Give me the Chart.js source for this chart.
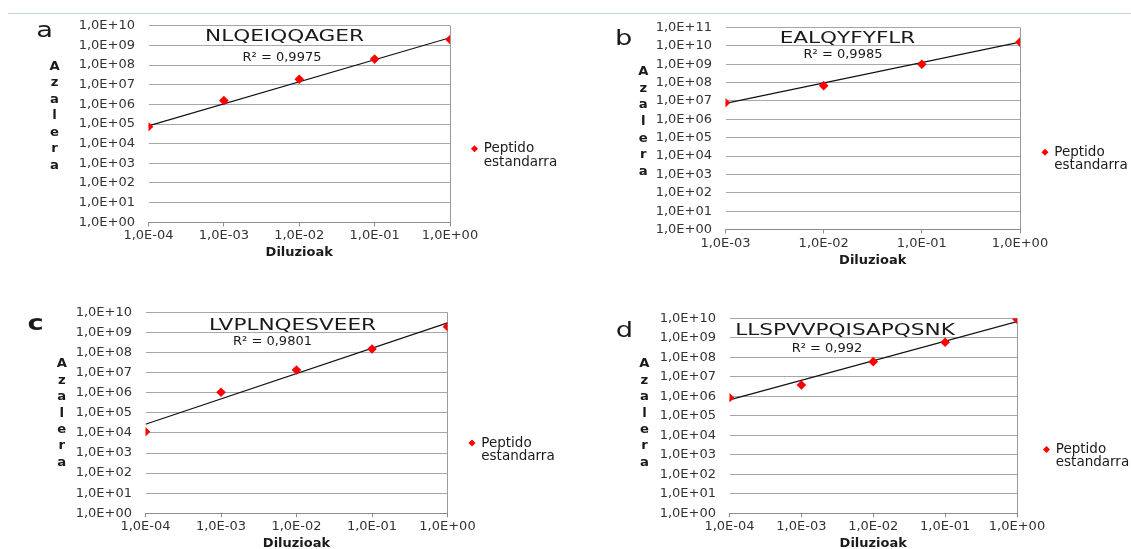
<!DOCTYPE html>
<html>
<head>
<meta charset="utf-8">
<script src="https://cdn.jsdelivr.net/npm/chart.js@4.4.1/dist/chart.umd.min.js"></script>
<style>
html, body { margin:0; padding:0; background:#fff; width:1131px; height:549px; overflow:hidden; }
.rule { position:absolute; left:8px; top:12.5px; width:1123px; height:1.5px; background:#c3d2e2; }
.panel { position:absolute; }
</style>
</head>
<body>
<div class="rule"></div>
<div class="panel" style="left:0px;top:16px;width:570px;height:258px"><canvas id="ca"></canvas></div>
<div class="panel" style="left:565px;top:16px;width:580px;height:258px"><canvas id="cb"></canvas></div>
<div class="panel" style="left:0px;top:290px;width:570px;height:265px"><canvas id="cc"></canvas></div>
<div class="panel" style="left:565px;top:290px;width:580px;height:265px"><canvas id="cd"></canvas></div>
<script>
// texts
const panelLetters = ['a', 'b', 'c', 'd'];
const peptides = ['NLQEIQQAGER', 'EALQYFYFLR', 'LVPLNQESVEER', 'LLSPVVPQISAPQSNK'];
const r2Labels = ['R² = 0,9975', 'R² = 0,9985', 'R² = 0,9801', 'R² = 0,992'];
const yTitle = 'Azalera';
const xTitle = 'Diluzioak';
const seriesLabel = ['Peptido', 'estandarra'];

// ticks
const xTickVals4 = [1e-4, 1e-3, 1e-2, 1e-1, 1e0];
const xTickLabels4 = ['1,0E-04', '1,0E-03', '1,0E-02', '1,0E-01', '1,0E+00'];
const xTickVals3 = [1e-3, 1e-2, 1e-1, 1e0];
const xTickLabels3 = ['1,0E-03', '1,0E-02', '1,0E-01', '1,0E+00'];
const yTickVals10 = [1e0, 1e1, 1e2, 1e3, 1e4, 1e5, 1e6, 1e7, 1e8, 1e9, 1e10];
const yTickLabels10 = ['1,0E+00', '1,0E+01', '1,0E+02', '1,0E+03', '1,0E+04', '1,0E+05',
  '1,0E+06', '1,0E+07', '1,0E+08', '1,0E+09', '1,0E+10'];
const yTickVals11 = [1e0, 1e1, 1e2, 1e3, 1e4, 1e5, 1e6, 1e7, 1e8, 1e9, 1e10, 1e11];
const yTickLabels11 = ['1,0E+00', '1,0E+01', '1,0E+02', '1,0E+03', '1,0E+04', '1,0E+05',
  '1,0E+06', '1,0E+07', '1,0E+08', '1,0E+09', '1,0E+10', '1,0E+11'];

// data
const diluA = [1e-4, 1e-3, 1e-2, 1e-1, 1e0];
const areaA = [7.3e4, 1.55e6, 1.9e7, 2.0e8, 2.0e9];
const trendA = [8e4, 2.45e9];

const diluB = [1e-3, 1e-2, 1e-1, 1e0];
const areaB = [8e6, 6.8e7, 1.0e9, 1.6e10];
const trendB = [7.4e6, 1.6e10];

const diluC = [1e-4, 1e-3, 1e-2, 1e-1, 1e0];
const areaC = [1.15e4, 1.05e6, 1.35e7, 1.5e8, 1.9e9];
const trendC = [2.7e4, 3.0e9];

const diluD = [1e-4, 1e-3, 1e-2, 1e-1, 1e0];
const areaD = [8.5e5, 3.8e6, 6.0e7, 5.9e8, 8.9e9];
const trendD = [6.5e5, 6.7e9];

const FONT = '"DejaVu Sans", "Liberation Sans", Arial, sans-serif';
const TXT = '#1a1a1a';
const LEG_EXTRA = 94;   // legend box width beyond its label padding

function drawStretched(ctx, text, x, y, font, sx, baseline) {
  ctx.save();
  ctx.font = font;
  ctx.textAlign = 'center';
  ctx.textBaseline = baseline || 'middle';
  ctx.translate(x, y);
  ctx.scale(sx, 1);
  ctx.fillText(text, 0, 0);
  ctx.restore();
}

const panelText = {
  id: 'panelText',
  afterDraw(chart, args, o) {
    const ctx = chart.ctx;
    ctx.save();
    ctx.fillStyle = TXT;
    drawStretched(ctx, o.letter, o.letterX, o.letterY, (o.letterBold ? 'bold ' : '') + '21px ' + FONT, 1.3, 'alphabetic');
    drawStretched(ctx, o.title, o.titleX, o.titleY + 1.5, '16px ' + FONT, 1.35);
    drawStretched(ctx, o.r2, o.r2X, o.r2Y + 1, '13px ' + FONT, 1);
    yTitle.split('').forEach((ch, i) => {
      drawStretched(ctx, ch, o.stackX, o.stackY + i * o.stackStep, 'bold 12px ' + FONT, 1.1);
    });
    ctx.restore();
  }
};

function makeChart(id, p) {
  const xmin = p.xVals[0], xmax = p.xVals[p.xVals.length - 1];
  const ymax = p.yVals[p.yVals.length - 1];
  const pts = p.dilu.map((d, i) => ({x: d, y: p.area[i]}));
  const trend = [{x: p.dilu[0], y: p.trend[0]}, {x: p.dilu[p.dilu.length - 1], y: p.trend[1]}];

  return new Chart(document.getElementById(id), {
    type: 'scatter',
    data: {
      datasets: [{
        label: seriesLabel,
        data: pts,
        pointStyle: 'rectRot',
        pointRadius: 4.8,
        pointBackgroundColor: '#ff0000',
        pointBorderColor: '#ff0000',
        pointBorderWidth: 0,
        backgroundColor: '#ff0000',
        borderColor: '#ff0000',
        showLine: false
      }, {
        label: 'trend',
        data: trend,
        showLine: true,
        borderColor: '#111',
        borderWidth: 1.2,
        pointRadius: 0
      }]
    },
    options: {
      responsive: true,
      maintainAspectRatio: false,
      animation: false,
      events: [],
      layout: { padding: p.pad },
      scales: {
        x: {
          type: 'logarithmic',
          position: 'bottom',
          min: xmin,
          max: xmax,
          afterBuildTicks: (s) => { s.ticks = p.xVals.map(v => ({value: v})); },
          afterFit: (s) => { s.height = 38.5; },
          ticks: {
            autoSkip: false,
            maxRotation: 0,
            padding: 2,
            color: '#333',
            font: { family: FONT, size: 13 },
            callback: (v, i) => p.xLabels[i]
          },
          grid: {
            drawOnChartArea: true,
            drawTicks: true,
            tickLength: 4,
            tickColor: '#8c8c8c',
            color: (c) => (c.tick && c.tick.value === xmax) ? '#9a9a9a' : 'rgba(0,0,0,0)'
          },
          border: { display: true, color: '#8c8c8c' },
          title: {
            display: true,
            text: xTitle,
            color: TXT,
            padding: 0,
            font: { family: FONT, size: 13, weight: 'bold' }
          }
        },
        y: {
          type: 'logarithmic',
          position: 'left',
          min: 1,
          max: ymax,
          afterBuildTicks: (s) => { s.ticks = p.yVals.map(v => ({value: v})); },
          afterFit: (s) => { s.width = p.yw; },
          ticks: {
            autoSkip: false,
            padding: 0,
            color: '#333',
            font: { family: FONT, size: 13 },
            callback: (v, i) => p.yLabels[i]
          },
          grid: { color: '#a6a6a6', drawTicks: true, tickLength: 13.5, tickColor: 'rgba(0,0,0,0)' },
          border: { display: false }
        }
      },
      plugins: {
        tooltip: { enabled: false },
        title: { display: false },
        legend: {
          display: true,
          position: 'right',
          align: 'start',
          maxWidth: p.legPad + LEG_EXTRA,
          title: { display: true, text: ' ', font: { size: 10, lineHeight: 1 }, padding: { top: p.legTitle, bottom: 0 } },
          labels: {
            usePointStyle: true,
            boxWidth: 5,
            boxHeight: 5,
            padding: p.legPad,
            color: TXT,
            font: { family: FONT, size: 13.5, lineHeight: 1 },
            filter: (item) => item.datasetIndex === 0
          }
        },
        panelText: p.text
      }
    },
    plugins: [panelText]
  });
}

makeChart('ca', {
  dilu: diluA, area: areaA, trend: trendA,
  xVals: xTickVals4, xLabels: xTickLabels4, yVals: yTickVals10, yLabels: yTickLabels10,
  yw: 148.5, pad: { top: 9.7, right: 4, bottom: 13.2, left: 0 },
  legPad: 22, legTitle: 84.3,
  text: { letter: panelLetters[0], letterX: 44.5, letterY: 21.3, title: peptides[0], titleX: 284.5, titleY: 19,
          r2: r2Labels[0], r2X: 282, r2Y: 40.7, stackX: 54.5, stackY: 50.7, stackStep: 16.5 }
});

makeChart('cb', {
  dilu: diluB, area: areaB, trend: trendB,
  xVals: xTickVals3, xLabels: xTickLabels3, yVals: yTickVals11, yLabels: yTickLabels11,
  yw: 160.5, pad: { top: 11.5, right: 8.5, bottom: 6, left: 0 },
  legPad: 22.5, legTitle: 85.5,
  text: { letter: panelLetters[1], letterX: 58.7, letterY: 29, title: peptides[1], titleX: 282.5, titleY: 21.5,
          r2: r2Labels[1], r2X: 278, r2Y: 38, stackX: 78.3, stackY: 55.7, stackStep: 16.7 }
});

makeChart('cc', {
  dilu: diluC, area: areaC, trend: trendC,
  xVals: xTickVals4, xLabels: xTickLabels4, yVals: yTickVals10, yLabels: yTickLabels10,
  yw: 145.5, pad: { top: 22.3, right: 6.5, bottom: 3.2, left: 0 },
  legPad: 22, legTitle: 92,
  text: { letter: panelLetters[2], letterBold: true, letterX: 35.5, letterY: 40, title: peptides[2], titleX: 292.5, titleY: 34,
          r2: r2Labels[2], r2X: 272.5, r2Y: 51, stackX: 61.8, stackY: 74.3, stackStep: 16.4 }
});

makeChart('cd', {
  dilu: diluD, area: areaD, trend: trendD,
  xVals: xTickVals4, xLabels: xTickLabels4, yVals: yTickVals10, yLabels: yTickLabels10,
  yw: 164.5, pad: { top: 28.3, right: 7, bottom: 3.2, left: 0 },
  legPad: 27, legTitle: 87.4,
  text: { letter: panelLetters[3], letterX: 59.5, letterY: 46.7, title: peptides[3], titleX: 280, titleY: 39,
          r2: r2Labels[3], r2X: 262, r2Y: 57.7, stackX: 79.4, stackY: 74.3, stackStep: 16.4 }
});
</script>
</body>
</html>
